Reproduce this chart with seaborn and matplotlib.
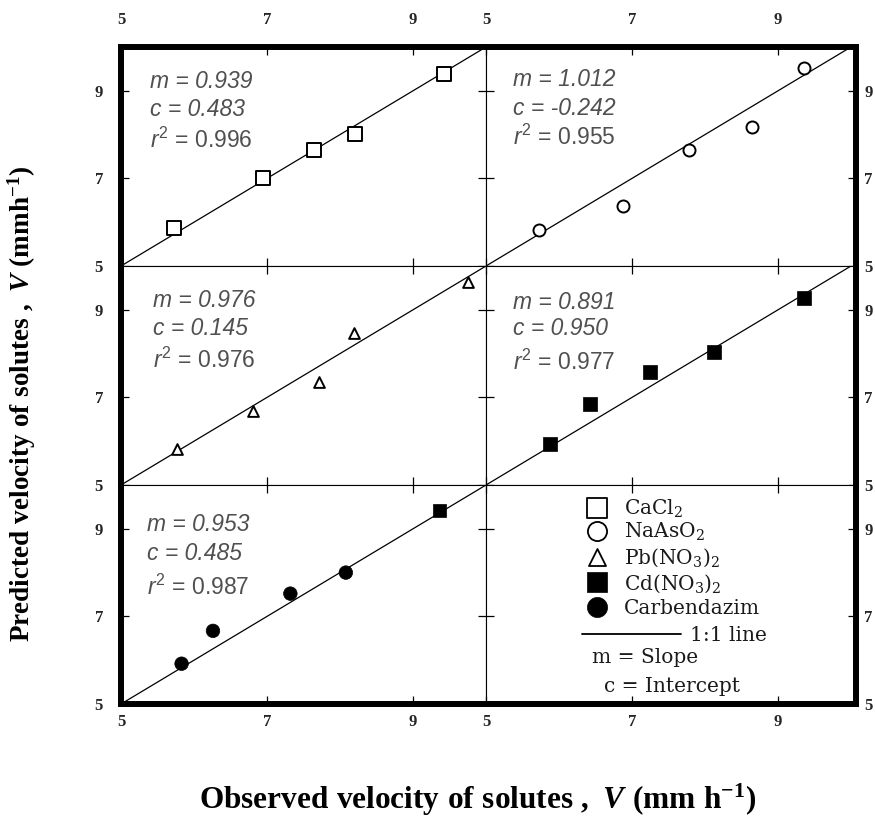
import matplotlib
matplotlib.use("Agg")
import matplotlib.pyplot as plt
import seaborn as sns

# ---------------- data ----------------
ONE_TO_ONE = [5, 10]

CACL2_OBS = [5.73, 6.94, 7.65, 8.20, 9.43]
CACL2_PRED = [5.87, 7.01, 7.65, 8.01, 9.39]

NAASO2_OBS = [5.73, 6.88, 7.78, 8.65, 9.35]
NAASO2_PRED = [5.82, 6.36, 7.65, 8.17, 9.52]

PB_OBS = [5.77, 6.81, 7.71, 8.19, 9.75]
PB_PRED = [5.82, 6.68, 7.36, 8.46, 9.63]

CD_OBS = [5.88, 6.42, 7.25, 8.13, 9.36]
CD_PRED = [5.93, 6.86, 7.57, 8.03, 9.27]

CARB_OBS = [5.83, 6.26, 7.32, 8.08, 9.36]
CARB_PRED = [5.92, 6.67, 7.52, 8.00, 9.42]
CARB_SHAPE = ["circle", "circle", "circle", "circle", "square"]

SLOPES = ["0.939", "1.012", "0.976", "0.891", "0.953"]
INTERCEPTS = ["0.483", "-0.242", "0.145", "0.950", "0.485"]
R2 = ["0.996", "0.955", "0.976", "0.977", "0.987"]

TICKS = [5, 7, 9]
TICK_LABELS = ["5", "7", "9"]

LEGEND_LABELS = [r"CaCl$_{\mathsf{2}}$", r"NaAsO$_{\mathsf{2}}$",
                 r"Pb(NO$_{\mathsf{3}}$)$_{\mathsf{2}}$",
                 r"Cd(NO$_{\mathsf{3}}$)$_{\mathsf{2}}$", "Carbendazim"]

# ---------------- style ----------------
sns.set_theme(style="white")
plt.rcParams.update({
    "font.family": ["Liberation Serif", "DejaVu Serif"],
    "mathtext.fontset": "custom",
    "mathtext.rm": "Liberation Sans",
    "mathtext.it": "Liberation Sans:italic",
    "mathtext.bf": "Liberation Serif:bold",
    "mathtext.bfit": "Liberation Serif:italic:bold",
    "mathtext.sf": "DejaVu Serif",
})

W, H = 875, 825
fig = plt.figure(figsize=(W / 100, H / 100), dpi=100)

cols = [(121, 365, 10.0), (486, 370, 5 + 370 / 73)]
rows = [(47, 219), (266, 219), (485, 219)]

THICK = 4.3
THIN = 0.8

axes = {}
for r, (top, h) in enumerate(rows):
    for c, (left, w, xmax) in enumerate(cols):
        ax = fig.add_axes([left / W, (H - top - h) / H, w / W, h / H])
        ax.set_xlim(5, xmax)
        ax.set_ylim(5, 10)
        ax.set_xticks(TICKS)
        ax.set_yticks(TICKS)
        ax.set_xticklabels(TICK_LABELS)
        ax.set_yticklabels(TICK_LABELS)
        ax.tick_params(direction="in", length=5.8, width=0.9, color="black",
                       top=True, bottom=True, left=True, right=True,
                       labeltop=(r == 0), labelbottom=(r == 2),
                       labelleft=(c == 0), labelright=(c == 1),
                       labelsize=12)
        ax.tick_params(axis="x", which="both", pad=7.5)
        if r == 0:
            ax.tick_params(axis="x", pad=14)
        ax.tick_params(axis="y", pad=13 if c == 0 else 6)
        for lab in ax.get_xticklabels() + ax.get_yticklabels():
            lab.set_fontweight("bold")
            lab.set_fontfamily("Liberation Serif")
        for side in ["left", "right", "top", "bottom"]:
            ax.spines[side].set_color("black")
            ax.spines[side].set_linewidth(THIN)
        if c == 0:
            ax.spines["left"].set_linewidth(THICK)
        else:
            ax.spines["right"].set_linewidth(THICK)
        if r == 0:
            ax.spines["top"].set_linewidth(THICK)
        if r == 2:
            ax.spines["bottom"].set_linewidth(THICK)
        ax.set_xlabel("")
        ax.set_ylabel("")
        axes[(r, c)] = ax

panels = [
    (axes[(0, 0)], CACL2_OBS, CACL2_PRED, dict(marker="s", s=100, color="white", edgecolor="black", linewidth=1.4)),
    (axes[(0, 1)], NAASO2_OBS, NAASO2_PRED, dict(marker="o", s=75, color="white", edgecolor="black", linewidth=1.4)),
    (axes[(1, 0)], PB_OBS, PB_PRED, dict(marker="^", s=60, color="white", edgecolor="black", linewidth=1.4)),
    (axes[(1, 1)], CD_OBS, CD_PRED, dict(marker="s", s=100, color="black", edgecolor="black", linewidth=0.5)),
]

for ax, xo, yp, kw in panels:
    sns.lineplot(x=ONE_TO_ONE, y=ONE_TO_ONE, color="black", lw=0.9, ax=ax, sort=False)
    sns.scatterplot(x=xo, y=yp, ax=ax, zorder=3, legend=False, **kw)

ax5 = axes[(2, 0)]
sns.lineplot(x=ONE_TO_ONE, y=ONE_TO_ONE, color="black", lw=0.9, ax=ax5, sort=False)
sns.scatterplot(x=CARB_OBS, y=CARB_PRED, style=CARB_SHAPE,
                markers={"circle": "o", "square": "s"}, s=95, color="black",
                edgecolor="black", linewidth=0.5, ax=ax5, zorder=3, legend=False)

# annotation text
ann_axes = [axes[(0, 0)], axes[(0, 1)], axes[(1, 0)], axes[(1, 1)], axes[(2, 0)]]
ann_pos = [(0.079, 0.849, 0.721, 0.575),
           (0.073, 0.858, 0.727, 0.590),
           (0.088, 0.852, 0.723, 0.571),
           (0.073, 0.842, 0.720, 0.563),
           (0.070, 0.825, 0.696, 0.536)]
ANN_COLOR = "#505050"
for ax, (x0, ym, yc, yr), m, cc, r2 in zip(ann_axes, ann_pos, SLOPES, INTERCEPTS, R2):
    off = 0.037
    ax.text(x0, ym - off, f"m = {m}", transform=ax.transAxes, style="italic",
            family="Liberation Sans", fontsize=16.5, color=ANN_COLOR, va="baseline")
    ax.text(x0, yc - off, f"c = {cc}", transform=ax.transAxes, style="italic",
            family="Liberation Sans", fontsize=16.5, color=ANN_COLOR, va="baseline")
    ax.text(x0, yr - off, r"$\mathit{r}^{\mathrm{2}}$" + f" = {r2}", transform=ax.transAxes,
            family="Liberation Sans", fontsize=16.5, color=ANN_COLOR, va="baseline")

# legend panel
ax6 = axes[(2, 1)]
leg_y = [9.475, 8.96, 8.36, 7.78, 7.21]
leg_kw = [dict(marker="s", s=200, color="white", edgecolor="black", linewidth=1.3),
          dict(marker="o", s=190, color="white", edgecolor="black", linewidth=1.3),
          dict(marker="^", s=150, color="white", edgecolor="black", linewidth=1.3),
          dict(marker="s", s=190, color="black", edgecolor="black", linewidth=0.5),
          dict(marker="o", s=210, color="black", edgecolor="black", linewidth=0.5)]
for yy, lab, kw in zip(leg_y, LEGEND_LABELS, leg_kw):
    ax6.scatter([6.52], [yy], clip_on=False, zorder=3, **kw)
    ax6.text(6.89, yy - 0.16, lab, family="DejaVu Serif", fontsize=14.5,
             color="#1a1a1a", va="baseline")
ax6.plot([6.31, 7.67], [6.60, 6.60], color="black", lw=1.3)
ax6.text(7.80, 6.60 - 0.16, "1:1 line", family="DejaVu Serif", fontsize=14.5,
         color="#1a1a1a", va="baseline")
ax6.text(6.45, 6.10 - 0.16, "m = Slope", family="DejaVu Serif", fontsize=14.5,
         color="#1a1a1a", va="baseline")
ax6.text(6.62, 5.44 - 0.16, "c = Intercept", family="DejaVu Serif", fontsize=14.5,
         color="#1a1a1a", va="baseline")

# axis titles
fig.text(0.025, 0.51,
         r"$\mathbf{Predicted\ velocity\ of\ solutes\ ,\ }\mathbfit{V}\mathbf{\ (mmh^{-1})}$",
         rotation=90, ha="center", va="center", fontsize=19.5, color="black")
fig.text(0.546, 0.03,
         r"$\mathbf{Observed\ velocity\ of\ solutes\ ,\ }\mathbfit{V}\mathbf{\ (mm\ h^{-1})}$",
         ha="center", va="center", fontsize=22.5, color="black")

fig.savefig("out.png", dpi=100, facecolor="white")
